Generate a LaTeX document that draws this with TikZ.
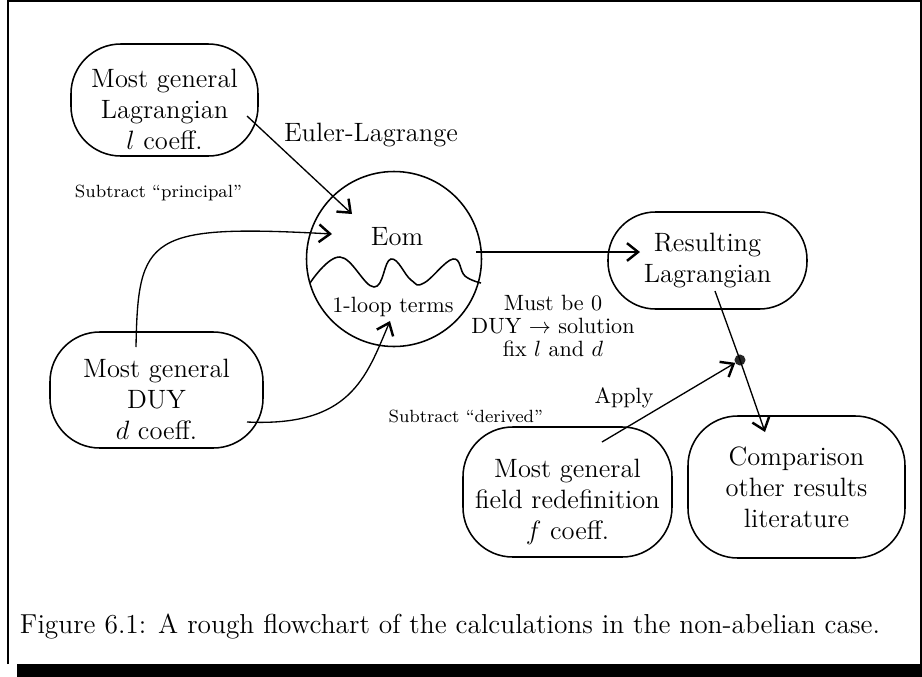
\documentclass[tikz,border=0pt]{standalone}
\usetikzlibrary{arrows.meta}
\begin{document}
\begin{tikzpicture}[x=0.4525pt,y=-0.4525pt,
  every node/.style={inner sep=0pt, outer sep=0pt},
  box/.style={draw, line width=0.7pt, rounded corners=22.5pt, align=center, font=\fontsize{12}{14}\selectfont},
  lbl/.style={font=\fontsize{12}{14}\selectfont, align=center},
  lblsmall/.style={font=\fontsize{10}{10.6}\selectfont, align=center},
  lbltiny/.style={font=\fontsize{8}{9.5}\selectfont},
  conn/.style={line width=0.6pt, -{Straight Barb[length=5pt,width=8pt,line width=1.1pt]}},
  jdot/.style={circle, fill=black!85, minimum size=5pt}
]
\useasboundingbox (0,0) rectangle (922,677);
% frame with shadow
\draw[line width=0.9pt] (8,664) -- (8,1) -- (921,1);
\fill (919.5,0) rectangle (922,677);
\fill (17,664) rectangle (922,677);

% boxes
\node[box, minimum width=187*0.4525pt, minimum height=112*0.4525pt] (lag) at (164.5,100)
  {\rule{0pt}{17pt}Most general\\Lagrangian\\$l$ coeff.};
\node[box, minimum width=213*0.4525pt, minimum height=116*0.4525pt] (duy) at (156.5,390)
  {\rule{0pt}{17pt}Most general\\DUY\\$d$ coeff.};
\node[box, rounded corners=21.5pt, minimum width=199*0.4525pt, minimum height=97*0.4525pt] (res) at (707.5,260.5)
  {Resulting\\Lagrangian};
\node[box, minimum width=209*0.4525pt, minimum height=130*0.4525pt] (fr) at (567.5,492)
  {\rule{0pt}{17pt}Most general\\field redefinition\\$f$ coeff.};
\node[box, minimum width=217*0.4525pt, minimum height=142*0.4525pt] (cmp) at (796.5,487)
  {Comparison\\other results\\literature};

% Eom circle
\node[draw, circle, line width=0.7pt, minimum size=175*0.4525pt] (eom) at (394,259) {};
\draw[line width=0.7pt] plot[smooth, tension=0.7] coordinates
  {(310,283) (340,257) (374,287) (391,259) (411,280) (424,283) (453,259) (465,276) (481,283)};
\node[lbl] (eomt) at (397,237) {Eom};
\node[lblsmall] (loop) at (393,307) {1-loop terms};

% junction
\node[jdot] (j) at (740,360) {};

% labels
\node[lbl] (el) at (371,135) {Euler-Lagrange};
\node[lbltiny, anchor=west] (sp) at (75,193) {Subtract “principal”};
\node[lbltiny, anchor=east] (sd) at (543,416) {Subtract “derived”};
\node[lblsmall] (must) at (553,326) {Must be 0\\DUY $\to$ solution\\fix $l$ and $d$};
\node[lblsmall] (ap) at (624,398) {Apply};
\node[font=\fontsize{12.4}{14}\selectfont, anchor=base west] (cap) at (20,633)
  {Figure 6.1: A rough flowchart of the calculations in the non-abelian case.};

% connectors
\draw[conn] ([shift={(82.5,16)}]lag.center) -- ([shift={(-42,-45)}]eom.center);
\draw[conn] ([shift={(-20.5,-43)}]duy.center) .. controls (138,236) and (148,224) .. ([shift={(-62,-25)}]eom.center);
\draw[conn] ([shift={(90.5,32)}]duy.center) .. controls (350,427) and (366,378) .. ([shift={(-4,62)}]eom.center);
\draw[conn] ([shift={(82,-7)}]eom.center) -- ([shift={(-67.5,-8.5)}]res.center);
\draw[conn] ([shift={(7.5,30.5)}]res.center) -- (j.center) -- ([shift={(-31.5,-55)}]cmp.center);
\draw[conn] ([shift={(34.5,-50)}]fr.center) -- (j);
\end{tikzpicture}
\end{document}
